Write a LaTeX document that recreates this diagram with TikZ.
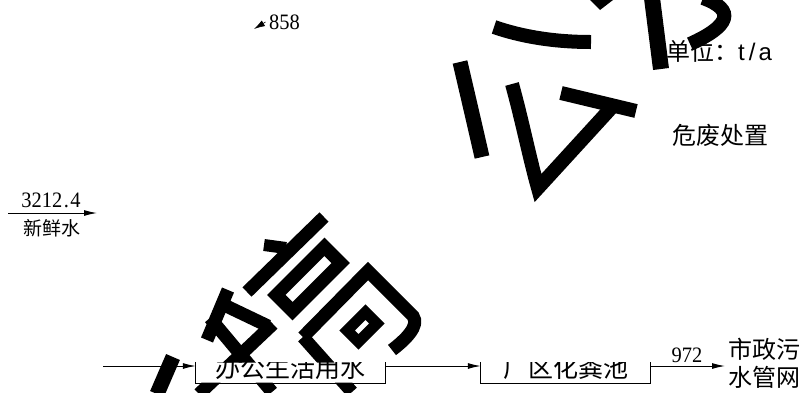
\documentclass[tikz,border=0pt]{standalone}
\usepackage{fontspec}
\setmainfont{Liberation Serif}
\newfontfamily\cjk{Noto Sans CJK SC}
\newfontfamily\lsans{Liberation Sans}
\usetikzlibrary{arrows.meta}
\definecolor{wmcol}{HTML}{000000}
\newcommand{\numtxt}[1]{\scalebox{0.93}[1]{#1}}
\newcommand{\wmstrokes}[1]{%
  % top character
  \draw[wm, draw=#1] (494,27) .. controls (520,36) and (552,42) .. (591,42);
  \draw[wm, draw=#1, line width=15pt] (460,62) .. controls (467,92) and (474,122) .. (482,157);
  \draw[wm, draw=#1] (512,84) .. controls (522,120) and (530,160) .. (538,188) -- (613,106);
  \draw[wm, draw=#1] (561,93) -- (636,111);
  \draw[wm, draw=#1, line width=16pt] (652,-2) -- (661,69);
  \draw[wm, draw=#1] (703,-2) .. controls (736,10) and (730,26) .. (690,44);
  \fill[#1] (590,0) -- (613,0) -- (600,10) -- cycle;
  % bottom-left character
  \draw[wm, draw=#1, line width=13pt] (324,217) -- (247,292);
  \draw[wm, draw=#1, line width=12pt] (264,245) -- (286,248);
  \begin{scope}[shift={(308.5,279)}, rotate=45]
    \draw[wm, draw=#1, line width=13pt] (-34,-11.5) rectangle (34,11.5);
  \end{scope}
  \draw[wm, draw=#1, line width=13pt] (303,337) -- (368,271) -- (413,316) .. controls (420,326) and (405,340) .. (392,350);
  \draw[wm, draw=#1, line width=13pt] (303,337) -- (352,392);
  \begin{scope}[shift={(362,327)}, rotate=45]
    \draw[wm, draw=#1, line width=11pt] (-13,-8) rectangle (13,8);
  \end{scope}
  \draw[wm, draw=#1, line width=13pt] (228,290) -- (207,340);
  \draw[wm, draw=#1, line width=13pt] (222,304) -- (268,326);
  \draw[wm, draw=#1, line width=13pt] (210,318) -- (272,392);
  \draw[wm, draw=#1, line width=13pt] (199,394) -- (273,324);
  \draw[wm, draw=#1, line width=15pt] (157,394) -- (173,357);
}
\begin{document}
\begin{tikzpicture}[x=1pt,y=-1pt,
  ln/.style={line width=1pt},
  arr/.style={ln,-{Latex[length=13pt,width=6pt]}},
  num/.style={font=\fontsize{22}{22}\selectfont, inner sep=0pt, anchor=base},
  zh/.style={font=\cjk\fontsize{24}{24}\selectfont, inner sep=0pt, anchor=base},
  zhbox/.style={font=\cjk\fontsize{25}{25}\selectfont, inner sep=0pt, anchor=base},
  boxnode/.style={minimum width=#1, minimum height=21pt, inner sep=0pt},
  wm/.style={line width=14pt, line cap=butt, line join=miter},
]
\useasboundingbox (0,0) rectangle (803,392);

% fresh water input
\node[num] (n3212) at (51,207) {\numtxt{3212\hspace{1.5pt}.\hspace{1.5pt}4}};
\coordinate (a1s) at (8,213);
\coordinate (a1e) at (97,213);
\node[zh, font=\cjk\fontsize{19}{19}\selectfont] (fresh) at (52,235) {新鲜水};

% 858 with lone arrowhead
\node[num, anchor=base west] (n858) at (269,29) {\numtxt{858}};
\coordinate (s858) at (265.5,22);
\coordinate (t858) at (254,29);

% unit
\node[zh, anchor=base west] (unit) at (666,60) {单位：\lsans t\hspace{4pt}/\hspace{3pt}a};

% hazardous waste
\node[zh, anchor=base west] (haz) at (672,144) {危废处置};

% bottom row nodes
\coordinate (b0) at (103,366);
\node[boxnode=189pt] (box1) at (290.5,372.5) {};
\node[boxnode=169pt] (box2) at (565.5,372.5) {};
\begin{scope}
  \clip (0,362.5) rectangle (803,392);
  \node[zhbox] (t1) at (290.5,377) {办公生活用水};
  \node[zhbox] (t2) at (565.5,377) {厂区化粪池};
\end{scope}
\coordinate (sew) at (725,366);
\node[num] (n972) at (687,362) {\numtxt{972}};
\node[zh, anchor=base west] (city1) at (728,358) {市政污};
\node[zh, anchor=base west] (city2) at (728,386) {水管网};

% watermark, kept out of the text band of box1
\begin{scope}[even odd rule]
  \clip (-5,-5) rectangle (808,397) (196,362.5) rectangle (385,382.5);
  \wmstrokes{wmcol}
\end{scope}

% connectors and box outlines on top
\draw[arr] (a1s) -- (a1e);
\draw[line width=0.6pt,-{Latex[length=11pt,width=6.5pt]}] (s858) -- (t858);
\draw[ln] (box1.north west) -- (box1.south west) -- (box1.south east) -- (box1.north east);
\draw[ln] (box2.north west) -- (box2.south west) -- (box2.south east) -- (box2.north east);
\draw[arr] (b0) -- (b0 -| box1.west);
\draw[arr] (b0 -| box1.east) -- (b0 -| box2.west);
\draw[arr] (b0 -| box2.east) -- (sew);
\end{tikzpicture}
\end{document}
